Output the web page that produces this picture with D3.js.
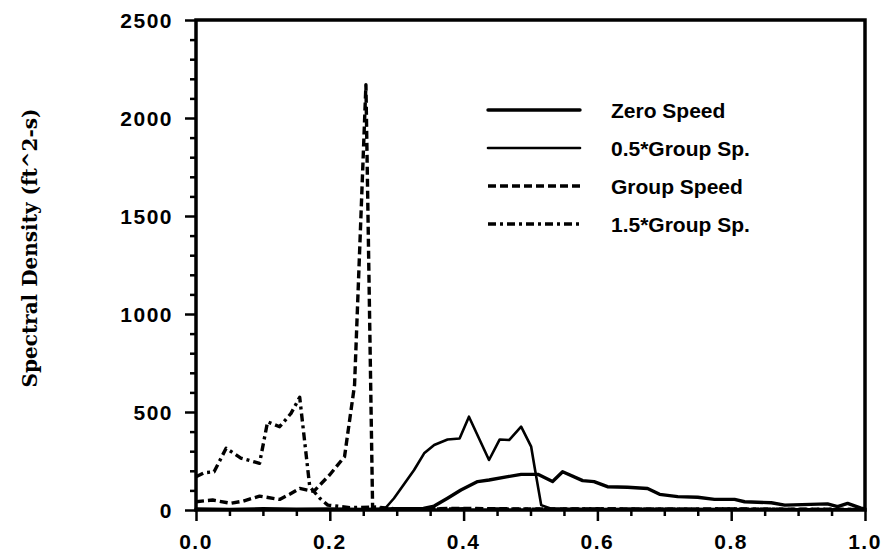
<!DOCTYPE html>
<html>
<head>
<meta charset="UTF-8">
<title>Spectral Density</title>
<script src="https://d3js.org/d3.v7.min.js"></script>
<style>
  body { margin: 0; background: #fff; }
  .tick-label { font: bold 21px "Liberation Sans", Arial, sans-serif; fill: #000; letter-spacing: 1.5px; }
  .legend text { font: bold 21px "Liberation Sans", Arial, sans-serif; fill: #000; }
  .ylabel { font: bold 20px "DejaVu Serif", "Liberation Serif", serif; fill: #000; }
  .series { fill: none; stroke: #000; stroke-linejoin: round; }
</style>
</head>
<body>
<script>

// frequency / spectral density pairs
var zeroSpeed = [
  [0,5],[0.05,3],[0.1,6],[0.15,4],[0.2,5],[0.25,3],[0.3,6],[0.34,8],[0.356,20],
  [0.376,60],[0.396,102],[0.421,145],[0.438,153],[0.466,170],[0.486,182],[0.511,182],
  [0.533,145],[0.548,195],[0.578,150],[0.595,145],[0.615,119],[0.645,116],[0.675,110],
  [0.693,80],[0.72,68],[0.75,65],[0.775,54],[0.805,54],[0.82,42],[0.86,37],[0.88,25],
  [0.944,31],[0.959,17],[0.974,34],[0.994,10],[1.0,5]
];
var halfGroup = [
  [0,2],[0.1,3],[0.2,2],[0.27,3],[0.282,5],[0.296,60],[0.326,204],[0.341,289],
  [0.356,332],[0.376,360],[0.394,365],[0.408,476],[0.438,255],[0.454,360],[0.468,357],
  [0.486,425],[0.501,323],[0.506,221],[0.516,25],[0.53,8],[0.6,5],[0.7,6],[0.8,5],
  [0.9,4],[1.0,3]
];
var groupSpeed = [
  [0,42],[0.025,51],[0.052,34],[0.07,45],[0.095,71],[0.125,54],[0.14,80],[0.155,110],
  [0.176,95],[0.2,180],[0.222,272],[0.237,638],[0.254,2170],[0.264,10],[0.3,5],
  [0.4,8],[0.5,5],[0.6,6],[0.7,4],[0.8,5],[0.9,4],[1.0,3]
];
var oneHalfGroup = [
  [0,170],[0.012,190],[0.027,195],[0.045,315],[0.067,265],[0.095,238],[0.107,450],
  [0.125,425],[0.142,493],[0.155,575],[0.17,119],[0.185,60],[0.197,25],[0.23,12],
  [0.27,15],[0.3,5],[0.4,6],[0.5,4],[0.6,5],[0.7,4],[0.8,5],[0.9,3],[1.0,3]
];

var seriesNames = ["Zero Speed", "0.5*Group Sp.", "Group Speed", "1.5*Group Sp."];
var xTicks = [0, 0.2, 0.4, 0.6, 0.8, 1.0];
var yTicks = [0, 500, 1000, 1500, 2000, 2500];

var W = 890, H = 558;
var svg = d3.select("body").append("svg").attr("width", W).attr("height", H);

var x = d3.scaleLinear().domain([0, 1]).range([196, 865]);
var y = d3.scaleLinear().domain([0, 2500]).range([510, 20]);

var styles = [
  { w: 3.4, dash: null, cap: "round" },
  { w: 2.6, dash: null, cap: "round" },
  { w: 3.4, dash: "8,4", cap: "butt" },
  { w: 3.4, dash: "8,4,3,4", cap: "butt" }
];
var allSeries = [zeroSpeed, halfGroup, groupSpeed, oneHalfGroup];

var line = d3.line().x(d => x(d[0])).y(d => y(d[1]));

allSeries.forEach(function(s, i) {
  svg.append("path")
    .attr("class", "series")
    .attr("d", line(s))
    .attr("stroke-width", styles[i].w)
    .attr("stroke-linecap", styles[i].cap)
    .attr("stroke-dasharray", styles[i].dash);
});

// axes
var xAxis = d3.axisBottom(x).tickValues(d3.range(0, 1.0001, 0.05)).tickSize(7).tickFormat("");
var gx = svg.append("g").attr("transform", "translate(0," + y(0) + ")").call(xAxis);
gx.selectAll(".tick line").attr("stroke-width", 2.5)
  .attr("y2", d => Math.abs(d * 5 - Math.round(d * 5)) < 1e-6 ? 11 : 6);
gx.select(".domain").remove();

svg.selectAll(".xl").data(xTicks).enter().append("text")
  .attr("class", "tick-label")
  .attr("x", d => x(d)).attr("y", 549)
  .attr("text-anchor", "middle")
  .text(d => d.toFixed(1));

var yAxis = d3.axisLeft(y).tickValues(d3.range(0, 2501, 100)).tickSize(6).tickFormat("");
var gy = svg.append("g").attr("transform", "translate(" + x(0) + ",0)").call(yAxis);
gy.selectAll(".tick line").attr("stroke-width", 2.5)
  .attr("x2", d => d % 500 === 0 ? -11 : -6);
gy.select(".domain").remove();

svg.selectAll(".yl").data(yTicks).enter().append("text")
  .attr("class", "tick-label")
  .attr("x", 173).attr("y", d => y(d) + 8)
  .attr("text-anchor", "end")
  .text(d => d);

// frame
svg.append("rect")
  .attr("x", x(0)).attr("y", y(2500))
  .attr("width", x(1) - x(0)).attr("height", y(0) - y(2500))
  .attr("fill", "none").attr("stroke", "#000").attr("stroke-width", 3.5);

svg.append("text")
  .attr("class", "ylabel")
  .attr("transform", "translate(37,248) rotate(-90)")
  .attr("text-anchor", "middle")
  .text("Spectral Density (ft^2-s)");

// legend
var legend = svg.append("g").attr("class", "legend");
seriesNames.forEach(function(name, i) {
  var ly = 110 + i * 38;
  legend.append("line")
    .attr("x1", 488).attr("x2", 580).attr("y1", ly).attr("y2", ly)
    .attr("stroke", "#000")
    .attr("stroke-width", styles[i].w)
    .attr("stroke-linecap", styles[i].cap)
    .attr("stroke-dasharray", styles[i].dash);
  legend.append("text").attr("x", 611).attr("y", ly + 8).text(name);
});

</script>
</body>
</html>
